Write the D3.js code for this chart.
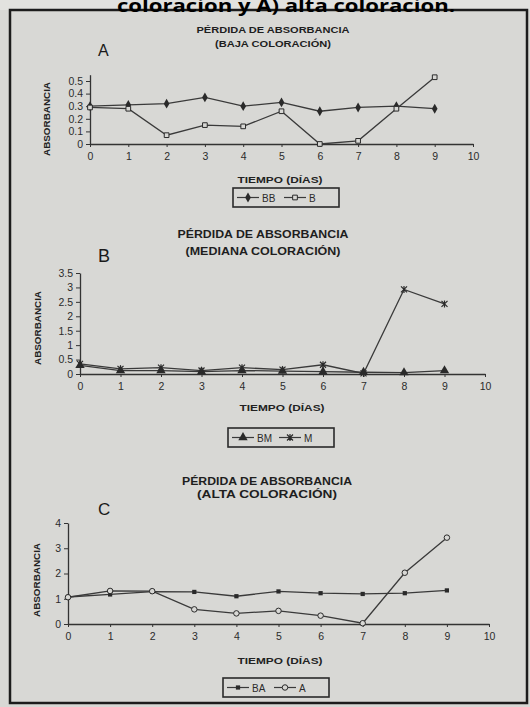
<!DOCTYPE html>
<html>
<head>
<meta charset="utf-8">
<script src="https://cdn.jsdelivr.net/npm/d3@7"></script>
<style>
  body { margin: 0; background: #d8d8d5; }
  svg { display: block; }
</style>
</head>
<body>
<svg width="530" height="707"></svg>
<script>
// data
var days = [0, 1, 2, 3, 4, 5, 6, 7, 8, 9];
var xTicks = [0, 1, 2, 3, 4, 5, 6, 7, 8, 9, 10];

var yTicksA = [0, 0.1, 0.2, 0.3, 0.4, 0.5];
var yTicksB = [0, 0.5, 1, 1.5, 2, 2.5, 3, 3.5];
var yTicksC = [0, 1, 2, 3, 4];

var bbValues = [0.30, 0.31, 0.32, 0.37, 0.30, 0.33, 0.26, 0.29, 0.30, 0.28];
var bValues  = [0.29, 0.28, 0.07, 0.15, 0.14, 0.26, 0.00, 0.025, 0.28, 0.53];

var bmValues = [0.30, 0.12, 0.12, 0.08, 0.12, 0.10, 0.08, 0.06, 0.05, 0.12];
var mValues  = [0.35, 0.18, 0.22, 0.12, 0.22, 0.15, 0.32, 0.02, 2.93, 2.43];

var baValues = [1.07, 1.17, 1.28, 1.27, 1.10, 1.29, 1.22, 1.19, 1.22, 1.33];
var aValues  = [1.06, 1.31, 1.30, 0.58, 0.42, 0.52, 0.33, 0.03, 2.03, 3.42];

var svg = d3.select('svg');
var ink = '#2a2a2a';
var bg = '#d8d8d5';

// paper frame
svg.append('rect').attr('x', 0).attr('y', 0).attr('width', 530).attr('height', 10).attr('fill', '#e2e2df');
svg.append('rect')
  .attr('x', 10).attr('y', 10).attr('width', 517).attr('height', 693)
  .attr('fill', 'none').attr('stroke', '#1c1c1c').attr('stroke-width', 2.5);

svg.append('text')
  .attr('x', 286).attr('y', 12)
  .attr('text-anchor', 'middle')
  .attr('font-family', 'Open Sans, sans-serif')
  .attr('font-weight', 'bold')
  .attr('font-size', 18)
  .attr('textLength', 338)
  .attr('lengthAdjust', 'spacingAndGlyphs')
  .attr('fill', '#000')
  .text('coloracion y A) alta coloracion.');

function marker(g, type, x, y) {
  var m;
  if (type == 'diamond') {
    m = g.append('path').attr('d', d3.symbol(d3.symbolDiamond, 28)()).attr('fill', ink);
  } else if (type == 'square') {
    m = g.append('path').attr('d', d3.symbol(d3.symbolSquare, 22)()).attr('fill', bg).attr('stroke', ink).attr('stroke-width', 1);
  } else if (type == 'triangle') {
    m = g.append('path').attr('d', d3.symbol(d3.symbolTriangle, 38)()).attr('fill', ink);
  } else if (type == 'x') {
    m = g.append('path').attr('d', 'M-3,-3L3,3M-3,3L3,-3M0,-3.5L0,3.5').attr('fill', 'none').attr('stroke', ink).attr('stroke-width', 1.2);
  } else if (type == 'fsquare') {
    m = g.append('path').attr('d', d3.symbol(d3.symbolSquare, 18)()).attr('fill', ink);
  } else {
    m = g.append('path').attr('d', d3.symbol(d3.symbolCircle, 24)()).attr('fill', bg).attr('stroke', ink).attr('stroke-width', 1);
  }
  m.attr('transform', 'translate(' + x + ',' + y + ')');
}

function drawChart(c) {
  var g = svg.append('g');
  var x = d3.scaleLinear().domain([0, 10]).range([c.left, c.right]);
  var y = d3.scaleLinear().domain(c.ydomain).range([c.bottom, c.top]);

  g.append('text').attr('x', c.titleX).attr('y', c.titleY)
    .attr('text-anchor', 'middle').attr('font-family', 'Liberation Sans, Arial, sans-serif')
    .attr('font-weight', 'bold').attr('font-size', c.titleSize).attr('fill', '#1e1e1e')
    .attr('textLength', c.titleW).attr('lengthAdjust', 'spacingAndGlyphs')
    .text('PÉRDIDA DE ABSORBANCIA');
  g.append('text').attr('x', c.titleX).attr('y', c.titleY + c.titleGap)
    .attr('text-anchor', 'middle').attr('font-family', 'Liberation Sans, Arial, sans-serif')
    .attr('font-weight', 'bold').attr('font-size', c.titleSize).attr('fill', '#1e1e1e')
    .attr('textLength', c.subW).attr('lengthAdjust', 'spacingAndGlyphs')
    .text(c.subtitle);

  g.append('text').attr('x', 98).attr('y', c.letterY)
    .attr('font-family', 'Liberation Sans, Arial, sans-serif')
    .attr('font-size', c.letterSize).attr('fill', '#1a1a1a')
    .text(c.letter);

  var yAxis = g.append('g').attr('transform', 'translate(' + c.left + ',0)')
    .call(d3.axisLeft(y).tickValues(c.yticks).tickSize(4).tickPadding(3).tickSizeOuter(0)
      .tickFormat(function(d) { return String(d); }));
  var xAxis = g.append('g').attr('transform', 'translate(0,' + c.bottom + ')')
    .call(d3.axisBottom(x).tickValues(xTicks).tickSize(3).tickPadding(6).tickSizeOuter(0));

  [yAxis, xAxis].forEach(function(a) {
    a.select('.domain').attr('stroke', '#333').attr('stroke-width', 1.3);
    a.selectAll('.tick line').attr('stroke', '#333');
    a.selectAll('.tick text').attr('fill', '#2b2b2b')
      .attr('font-family', 'Liberation Sans, Arial, sans-serif').attr('font-size', 10.5);
  });

  g.append('text')
    .attr('transform', 'translate(' + c.ylabX + ',' + c.ylabY + ') rotate(-90)')
    .attr('text-anchor', 'middle').attr('font-family', 'Liberation Sans, Arial, sans-serif')
    .attr('font-weight', 'bold').attr('font-size', 9).attr('fill', '#222')
    .attr('textLength', 74).attr('lengthAdjust', 'spacingAndGlyphs')
    .text('ABSORBANCIA');

  g.append('text').attr('x', c.xlabX).attr('y', c.xlabY)
    .attr('text-anchor', 'middle').attr('font-family', 'Liberation Sans, Arial, sans-serif')
    .attr('font-weight', 'bold').attr('font-size', 9.5).attr('fill', '#222')
    .attr('textLength', 85).attr('lengthAdjust', 'spacingAndGlyphs')
    .text(c.xlabel);

  var line = d3.line()
    .x(function(d, i) { return x(days[i]); })
    .y(function(d) { return y(d); });

  c.series.forEach(function(s) {
    g.append('path').datum(s.values)
      .attr('d', line).attr('fill', 'none')
      .attr('stroke', '#3a3a3a').attr('stroke-width', 1.3);
  });
  c.series.forEach(function(s) {
    s.values.forEach(function(v, i) {
      marker(g, s.marker, x(days[i]), y(v));
    });
  });

  // legend box
  var lg = g.append('g').attr('transform', 'translate(' + c.legX + ',' + c.legY + ')');
  lg.append('rect').attr('width', 106).attr('height', 19)
    .attr('fill', 'none').attr('stroke', '#2a2a2a').attr('stroke-width', 1.6);
  var cx = 4;
  c.series.forEach(function(s) {
    lg.append('line').attr('x1', cx).attr('x2', cx + 22).attr('y1', 9.5).attr('y2', 9.5)
      .attr('stroke', '#3a3a3a').attr('stroke-width', 1.2);
    marker(lg, s.marker, cx + 11, 9.5);
    lg.append('text').attr('x', cx + 25).attr('y', 13.5)
      .attr('font-family', 'Liberation Sans, Arial, sans-serif').attr('font-size', 10)
      .attr('fill', '#2b2b2b').text(s.name);
    cx += 25 + s.name.length * 7 + 8;
  });
}

drawChart({
  left: 90, right: 473, bottom: 144, top: 74.7, ydomain: [0, 0.55], yticks: yTicksA,
  titleX: 273, titleY: 33, titleGap: 14, titleSize: 9, titleW: 153, subW: 116,
  subtitle: '(BAJA  COLORACIÓN)', letter: 'A', letterY: 56, letterSize: 16,
  ylabX: 50, ylabY: 119, xlabX: 280, xlabY: 183, xlabel: 'TIEMPO (DÍAS)',
  legX: 233, legY: 188,
  series: [
    { name: 'BB', marker: 'diamond', values: bbValues },
    { name: 'B', marker: 'square', values: bValues }
  ]
});

drawChart({
  left: 80, right: 485, bottom: 374, top: 273, ydomain: [0, 3.5], yticks: yTicksB,
  titleX: 263, titleY: 238, titleGap: 17, titleSize: 10, titleW: 171, subW: 155,
  subtitle: '(MEDIANA COLORACIÓN)', letter: 'B', letterY: 262, letterSize: 18,
  ylabX: 41, ylabY: 328, xlabX: 282, xlabY: 411, xlabel: 'TIEMPO (DÍAS)',
  legX: 228, legY: 428,
  series: [
    { name: 'BM', marker: 'triangle', values: bmValues },
    { name: 'M', marker: 'x', values: mValues }
  ]
});

drawChart({
  left: 68, right: 489, bottom: 624, top: 523, ydomain: [0, 4], yticks: yTicksC,
  titleX: 267, titleY: 485, titleGap: 13, titleSize: 10, titleW: 170, subW: 140,
  subtitle: '(ALTA COLORACIÓN)', letter: 'C', letterY: 515, letterSize: 17,
  ylabX: 40, ylabY: 580, xlabX: 280, xlabY: 664, xlabel: 'TIEMPO (DÍAS)',
  legX: 223, legY: 678,
  series: [
    { name: 'BA', marker: 'fsquare', values: baValues },
    { name: 'A', marker: 'circle', values: aValues }
  ]
});
</script>
</body>
</html>
